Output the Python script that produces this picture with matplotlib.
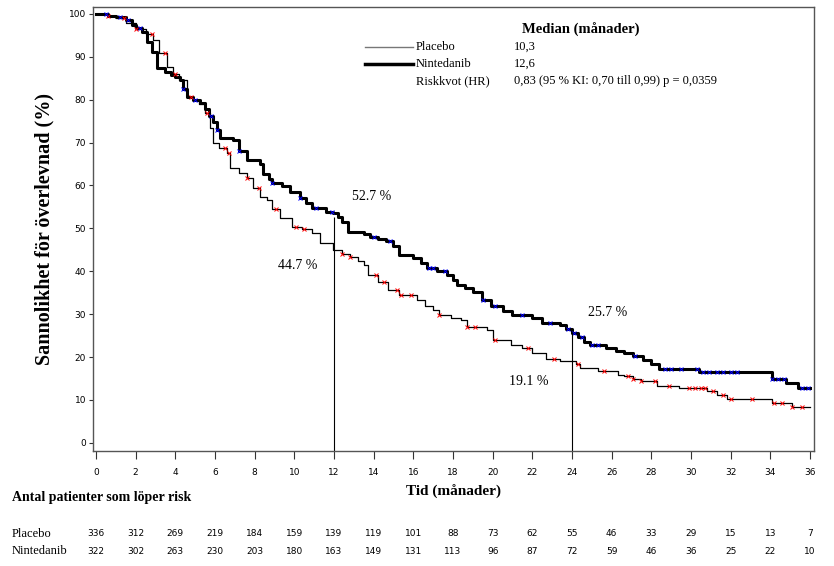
import numpy as np
import matplotlib
matplotlib.use("Agg")
import matplotlib.pyplot as plt

# Kaplan-Meier knots (time in months, survival in %)
nin_t = [0, 0.6, 1.0, 1.5, 1.8, 2.0, 2.3, 2.57, 2.8, 3.07, 3.5, 3.8, 4.0, 4.24, 4.4, 4.6, 4.9, 5.24,
         5.5, 5.7, 5.9, 6.1, 6.25, 6.9, 7.2, 7.6, 8.27, 8.4, 8.7, 8.9, 9.4, 9.8, 10.3, 10.6, 10.9,
         11.6, 11.95, 12.2, 12.4, 12.7, 13.5, 13.8, 14.2, 14.6, 15.0, 15.3, 16.0, 16.4, 16.7, 17.2,
         17.7, 18.0, 18.2, 18.6, 19.0, 19.45, 19.9, 20.5, 21.0, 22.0, 22.5, 23.4, 23.7, 24.0, 24.3,
         24.6, 24.9, 25.7, 26.2, 26.6, 27.1, 27.6, 28.0, 28.4, 30.4, 34.1, 34.8, 35.4]
nin_s = [100, 99.5, 99.2, 98.5, 97.5, 96.8, 95.8, 93.5, 91.2, 87.5, 86.5, 85.8, 85.2, 84.6, 82.5, 80.7, 80.0, 79.2,
         77.8, 76.3, 74.9, 73.0, 71.0, 70.5, 68.0, 66.0, 65.0, 62.7, 61.5, 60.6, 59.8, 58.5, 57.0, 55.8, 54.7,
         53.9, 53.5, 52.7, 51.5, 49.2, 48.7, 48.1, 47.5, 47.0, 45.8, 43.8, 43.1, 42.0, 40.8, 40.0,
         39.2, 38.0, 36.8, 36.0, 35.2, 33.3, 31.8, 30.8, 29.8, 29.1, 28.0, 27.5, 26.5, 25.7, 24.6,
         23.4, 22.8, 22.1, 21.5, 21.0, 20.2, 19.3, 18.3, 17.2, 16.4, 14.9, 14.0, 12.8]

pla_t = [0, 0.6, 1.0, 1.5, 2.0, 2.5, 2.9, 3.2, 3.6, 3.9, 4.2, 4.6, 4.9, 5.2, 5.5, 5.75, 5.9, 6.2,
         6.6, 6.75, 7.2, 7.6, 7.9, 8.27, 8.6, 8.9, 9.3, 9.9, 10.4, 10.9, 11.3, 11.95, 12.4, 12.8,
         13.2, 13.5, 13.7, 14.2, 14.7, 15.3, 16.2, 16.6, 17.0, 17.3, 17.9, 18.4, 18.7, 19.7, 20.0,
         20.9, 21.5, 22.0, 22.7, 23.4, 24.2, 24.4, 25.3, 26.3, 26.6, 27.1, 27.5, 28.3, 29.4, 30.8,
         31.3, 31.8, 34.1, 35.1]
pla_s = [100, 99.6, 99.0, 97.8, 96.5, 95.3, 94.0, 90.9, 87.6, 86.0, 84.6, 80.7, 80.0, 79.0, 77.0, 73.4, 70.0, 68.8,
         67.6, 64.0, 62.8, 61.7, 59.5, 57.4, 56.6, 54.5, 52.4, 50.4, 49.8, 48.9, 46.6, 45.0, 44.0, 43.4,
         42.5, 41.5, 39.2, 37.5, 35.7, 34.5, 33.3, 32.0, 31.0, 29.8, 29.2, 28.7, 27.1, 26.3, 24.0,
         22.8, 22.0, 21.0, 19.6, 19.1, 18.4, 17.5, 16.8, 15.9, 15.5, 14.9, 14.3, 13.3, 12.8, 12.0,
         11.2, 10.3, 9.3, 8.4]

# censoring times
nin_cens = [0.5, 1.2, 1.6, 2.2, 4.4, 5.0, 5.8, 6.1, 7.2, 8.9, 10.3, 11.1, 11.9, 14.0, 14.8, 16.8, 17.0,
            17.6, 19.5, 20.1, 21.5, 22.9, 23.8, 24.1, 24.5, 25.0, 25.3, 27.2, 28.7, 29.0, 29.5, 30.3,
            30.6, 30.9, 31.3, 31.6, 32.0, 32.3, 34.1, 34.4, 34.7, 35.6, 35.9]
pla_cens = [0.6, 1.4, 2.0, 2.8, 3.5, 4.0, 4.8, 5.6, 6.5, 6.7, 7.6, 8.2, 9.1, 10.1, 10.5, 12.4, 12.8, 14.1,
            14.5, 15.2, 15.4, 15.9, 17.3, 18.7, 19.1, 20.1, 21.8, 23.1, 24.3, 25.6, 26.8, 27.1, 27.5,
            28.2, 28.9, 29.9, 30.2, 30.5, 30.7, 31.1, 31.6, 32.0, 33.1, 34.2, 34.6, 35.1, 35.6]

t_end = 36.0
marks = [12, 24]
nin_marks = [52.7, 25.7]
pla_marks = [44.7, 19.1]

risk_times = list(range(0, 37, 2))
risk_placebo = [336, 312, 269, 219, 184, 159, 139, 119, 101, 88, 73, 62, 55, 46, 33, 29, 15, 13, 7]
risk_nintedanib = [322, 302, 263, 230, 203, 180, 163, 149, 131, 113, 96, 87, 72, 59, 46, 36, 25, 22, 10]

serif = "Liberation Serif"
sans = "DejaVu Sans"


def step_value(t, times, vals):
    i = np.searchsorted(times, t, side="right") - 1
    return np.asarray(vals)[np.clip(i, 0, len(vals) - 1)]


fig = plt.figure(figsize=(8.34, 5.66), dpi=100)
ax = fig.add_axes([0.1115, 0.2032, 0.8645, 0.7844])

# curves
ax.step(pla_t + [t_end], pla_s + [pla_s[-1]], where="post", color="black", lw=0.9)
ax.step(nin_t + [t_end], nin_s + [nin_s[-1]], where="post", color="black", lw=2.2)

# censor marks
ax.plot(pla_cens, step_value(pla_cens, pla_t, pla_s), "x", color="red", ms=2.6, mew=0.7)
ax.plot(nin_cens, step_value(nin_cens, nin_t, nin_s), "x", color="blue", ms=2.6, mew=0.7)

ax.set_xlim(-0.15, 36.2)
ax.set_ylim(-1.9, 101.6)

# reference lines at 12 and 24 months
ax.vlines(marks, -1.9, nin_marks, color="black", lw=0.8)

ax.text(12.9, 56.5, "52.7 %", family=serif, fontsize=10)
ax.text(9.2, 40.5, "44.7 %", family=serif, fontsize=10)
ax.text(24.8, 29.5, "25.7 %", family=serif, fontsize=10)
ax.text(20.8, 13.4, "19.1 %", family=serif, fontsize=10)

ax.set_xticks(risk_times)
ax.set_yticks(range(0, 101, 10))
ax.tick_params(axis="both", direction="out", labelsize=6.5, width=0.8, color="#333333")
ax.tick_params(axis="x", length=6, pad=6)
ax.tick_params(axis="y", length=3, pad=2)
for lab in ax.get_xticklabels() + ax.get_yticklabels():
    lab.set_family(sans)
for sp in ax.spines.values():
    sp.set_color("#555555")
    sp.set_linewidth(1.0)

ax.set_ylabel("Sannolikhet för överlevnad (%)", family=serif, fontweight="bold", fontsize=14.5, labelpad=10)
ax.set_xlabel("Tid (månader)", family=serif, fontweight="bold", fontsize=11, labelpad=6)

# legend box text
fig.text(581 / 834, 1 - 30 / 566, "Median (månader)", family=serif, fontweight="bold",
         fontsize=10.5, ha="center", va="center")
fig.add_artist(plt.Line2D([365 / 834, 413 / 834], [1 - 47 / 566] * 2, color="#777777", lw=1.0))
fig.add_artist(plt.Line2D([365 / 834, 413 / 834], [1 - 64 / 566] * 2, color="black", lw=2.5))
leg_rows = [("Placebo", "10,3"), ("Nintedanib", "12,6"),
            ("Riskkvot (HR)", "0,83 (95 % KI: 0,70 till 0,99) p = 0,0359")]
for i, (name, val) in enumerate(leg_rows):
    y = 1 - (47 + 17 * i) / 566
    fig.text(416 / 834, y, name, family=serif, fontsize=9, va="center")
    fig.text(514 / 834, y, val, family=serif, fontsize=9, va="center")

# number at risk table
fig.text(12 / 834, 1 - 497 / 566, "Antal patienter som löper risk", family=serif,
         fontweight="bold", fontsize=10, va="center")
for row_y, name, counts in [(534, "Placebo", risk_placebo), (551, "Nintedanib", risk_nintedanib)]:
    fy = 1 - row_y / 566
    fig.text(12 / 834, fy, name, family=serif, fontsize=9, va="center")
    for t, n in zip(risk_times, counts):
        xf = fig.transFigure.inverted().transform(ax.transData.transform((t, 0)))[0]
        fig.text(xf, fy, str(n), family=sans, fontsize=6.5, ha="center", va="center")

fig.savefig("out.png", dpi=100)
